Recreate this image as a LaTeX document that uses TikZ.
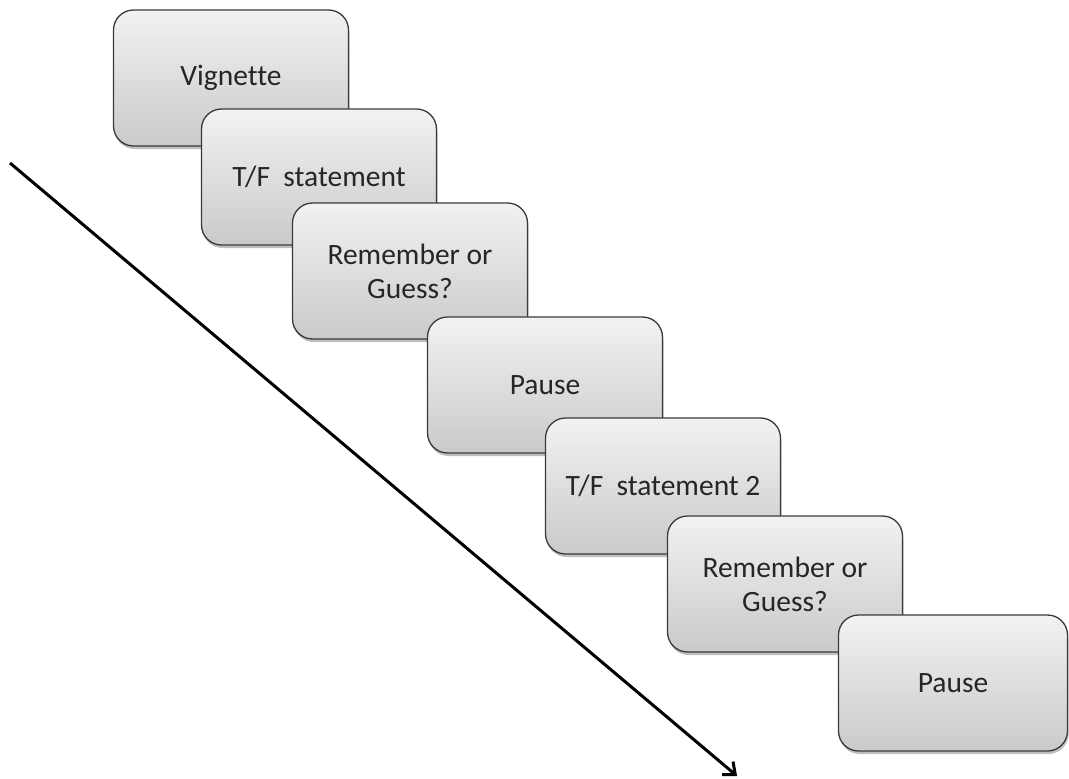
\documentclass[tikz,border=0pt]{standalone}
\usepackage{fontspec}
\setmainfont[Ligatures=NoCommon]{Carlito}
\usetikzlibrary{arrows.meta,shadows}
\definecolor{boxtop}{HTML}{F2F2F2}
\definecolor{boxbot}{HTML}{CACACA}
\definecolor{boxline}{HTML}{3A3A3A}
\definecolor{txt}{HTML}{262626}
\tikzset{
  stepbox/.style={draw=boxline, line width=1.3pt, rounded corners=20pt,
    top color=boxtop, bottom color=boxbot,
    minimum width=235pt, minimum height=136pt, inner sep=0pt,
    align=center, text=txt, font=\fontsize{29.5}{34}\selectfont,
    drop shadow={shadow xshift=1pt, shadow yshift=-3pt, opacity=0.25, fill=black}},
  timeline/.style={line width=3pt, -{Straight Barb[length=10pt,width=17pt,line width=3pt]}}
}
\begin{document}
\begin{tikzpicture}[x=1pt,y=-1pt]
\useasboundingbox (0,0) rectangle (1069,779);
\coordinate (s) at (10,163);
\coordinate (e) at (737,776);
\draw[timeline] (s) -- (e);
\node[stepbox] (b1) at (231,78) {Vignette};
\node[stepbox] (b2) at (319,177) {T/F\ \ statement};
\node[stepbox] (b3) at (410,271) {Remember or\\Guess?};
\node[stepbox] (b4) at (545,385) {Pause};
\node[stepbox] (b5) at (663,486) {T/F\ \ statement 2};
\node[stepbox] (b6) at (785,584) {Remember or\\Guess?};
\node[stepbox, minimum width=229pt] (b7) at (953,683) {Pause};
\end{tikzpicture}
\end{document}
